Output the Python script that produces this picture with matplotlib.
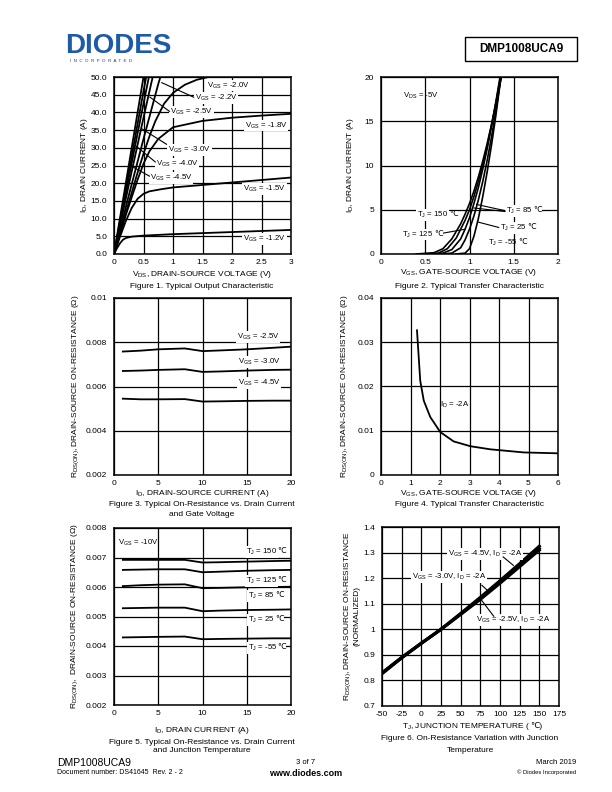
import matplotlib
matplotlib.use('Agg')
import matplotlib.pyplot as plt

plt.rcParams['font.family'] = ['Liberation Sans', 'DejaVu Sans']
plt.rcParams['mathtext.fontset'] = 'custom'
plt.rcParams['mathtext.rm'] = 'Liberation Sans'
plt.rcParams['mathtext.it'] = 'Liberation Sans:italic'
plt.rcParams['mathtext.default'] = 'rm'

W, H = 612, 792

# ---- Figure 1 data: output characteristic ----
vds_12 = [0, 0.05, 0.1, 0.15, 0.2, 0.3, 0.5, 1.0, 1.5, 2.0, 2.5, 3.0]
id_12 = [0, 1.6, 3.0, 4.0, 4.5, 4.9, 5.2, 5.6, 5.9, 6.2, 6.5, 6.8]
vds_15 = [0, 0.1, 0.2, 0.3, 0.4, 0.5, 0.6, 0.8, 1.0, 1.5, 2.0, 2.5, 3.0]
id_15 = [0, 4.8, 9.3, 13.0, 15.6, 17.0, 17.7, 18.3, 18.8, 19.5, 20.2, 20.9, 21.6]
vds_18 = [0, 0.1, 0.2, 0.3, 0.4, 0.5, 0.6, 0.75, 1.0, 1.5, 2.0, 2.5, 3.0]
id_18 = [0, 5.5, 11.0, 16.0, 21.0, 25.5, 29.0, 32.5, 35.8, 37.6, 38.5, 39.1, 39.6]
vds_20 = [0, 0.1, 0.2, 0.3, 0.4, 0.5, 0.6, 0.7, 0.85, 1.0, 1.2, 1.4, 1.6, 1.8, 2.0]
id_20 = [0, 5.8, 11.6, 17.3, 23.0, 28.3, 33.2, 37.5, 42.5, 45.5, 47.8, 49.2, 50.0, 50.5, 51.0]
vds_steep = [0, 0.25, 0.5, 0.75, 1.0]
id_22 = [0, 16.5, 32.5, 48.0, 62.0]
id_25 = [0, 19.5, 38.5, 57.0, 75.0]
id_30 = [0, 21.5, 42.5, 63.0, 83.0]
id_40 = [0, 23.0, 46.0, 68.0, 90.0]
id_45 = [0, 25.0, 50.0, 74.0, 98.0]

# ---- Figure 2 data: transfer characteristic ----
vgs_m55 = [0.85, 0.95, 1.00, 1.05, 1.10, 1.15, 1.20, 1.25, 1.30, 1.35, 1.37]
id_m55 = [0, 0.1, 0.6, 2.0, 4.0, 6.5, 9.3, 12.4, 15.8, 19.6, 21.0]
vgs_25 = [0.70, 0.80, 0.90, 0.95, 1.00, 1.05, 1.10, 1.15, 1.20, 1.25, 1.30, 1.35, 1.37]
id_25c = [0, 0.1, 0.7, 1.6, 2.8, 4.3, 6.1, 8.2, 10.6, 13.3, 16.3, 19.6, 21.0]
vgs_85 = [0.60, 0.70, 0.80, 0.90, 0.95, 1.00, 1.05, 1.10, 1.15, 1.20, 1.25, 1.30, 1.35, 1.37]
id_85 = [0, 0.1, 0.5, 1.7, 2.8, 4.1, 5.7, 7.5, 9.6, 11.9, 14.5, 17.3, 20.3, 21.5]
vgs_125 = [0.50, 0.65, 0.75, 0.85, 0.95, 1.00, 1.05, 1.10, 1.15, 1.20, 1.25, 1.30, 1.35, 1.38]
id_125 = [0, 0.1, 0.6, 1.8, 3.8, 5.0, 6.5, 8.2, 10.1, 12.2, 14.6, 17.2, 20.0, 21.6]
vgs_150 = [0.40, 0.60, 0.70, 0.80, 0.90, 0.95, 1.00, 1.05, 1.10, 1.15, 1.20, 1.25, 1.30, 1.35, 1.39]
id_150 = [0, 0.15, 0.6, 1.7, 3.4, 4.5, 5.7, 7.1, 8.7, 10.5, 12.5, 14.7, 17.0, 19.5, 21.5]

# ---- Figure 3 data: RDS(ON) vs ID and VGS ----
id_f3 = [1, 3, 5, 8, 10, 12, 15, 18, 20]
r_25v = [0.00758, 0.00762, 0.00768, 0.00772, 0.00760, 0.00763, 0.00768, 0.00775, 0.00780]
r_30v = [0.00670, 0.00672, 0.00675, 0.00678, 0.00666, 0.00668, 0.00672, 0.00675, 0.00676]
r_45v = [0.00545, 0.00542, 0.00542, 0.00543, 0.00532, 0.00533, 0.00535, 0.00536, 0.00536]

# ---- Figure 4 data: RDS(ON) vs VGS ----
vgs_f4 = [1.22, 1.28, 1.33, 1.45, 1.67, 2.01, 2.46, 3.03, 3.71, 4.84, 6.0]
r_f4 = [0.0327, 0.0265, 0.0213, 0.0168, 0.0131, 0.0097, 0.0076, 0.0065, 0.0058, 0.0051, 0.0049]

# ---- Figure 5 data: RDS(ON) vs ID and temperature ----
id_f5 = [1, 3, 5, 8, 10, 12, 15, 18, 20]
r_150 = [0.00692, 0.00692, 0.00692, 0.00692, 0.00683, 0.00684, 0.00686, 0.00688, 0.00689]
r_125 = [0.00658, 0.00659, 0.00660, 0.00660, 0.00650, 0.00652, 0.00655, 0.00657, 0.00658]
r_85 = [0.00603, 0.00606, 0.00608, 0.00609, 0.00596, 0.00597, 0.00599, 0.00600, 0.00601]
r_25 = [0.00528, 0.00529, 0.00530, 0.00530, 0.00518, 0.00520, 0.00522, 0.00523, 0.00524]
r_m55 = [0.00429, 0.00430, 0.00431, 0.00432, 0.00423, 0.00424, 0.00425, 0.00426, 0.00426]

# ---- Figure 6 data: normalized RDS(ON) vs TJ ----
tj = [-50, -25, 0, 25, 50, 75, 100, 125, 150]
rn_45 = [0.826, 0.888, 0.945, 1.0, 1.062, 1.125, 1.19, 1.257, 1.325]
rn_30 = [0.828, 0.889, 0.945, 1.0, 1.060, 1.120, 1.184, 1.250, 1.316]
rn_25 = [0.830, 0.890, 0.946, 1.0, 1.058, 1.117, 1.180, 1.245, 1.310]

fig = plt.figure(figsize=(W / 100, H / 100), dpi=100)


def fx(px):
    return px / W


def fy(py):
    return 1 - py / H


def make_axes(left, top, w, h, xlim, ylim, xt, xtl, yt, ytl):
    ax = fig.add_axes([fx(left), fy(top + h), w / W, h / H])
    ax.set_xlim(xlim)
    ax.set_ylim(ylim)
    ax.set_xticks(xt)
    ax.set_xticklabels(xtl)
    ax.set_yticks(yt)
    ax.set_yticklabels(ytl)
    ax.tick_params(length=0, labelsize=6)
    ax.tick_params(axis='x', pad=3.5)
    ax.tick_params(axis='y', pad=5)
    ax.grid(True, color='black', lw=0.9)
    ax.set_axisbelow(True)
    for s in ax.spines.values():
        s.set_linewidth(1.1)
    return ax


box = dict(facecolor='white', edgecolor='none', pad=0.6)
lfs = 5.6


def lab(ax, x, y, s, ha='left', bg=True):
    return ax.text(x, y, s, fontsize=lfs, ha=ha, va='center', bbox=box if bg else None, zorder=4)


def tlab(ax, x, y, s, bg=True):
    # "T_J = nn" in mathtext, then the degree-Celsius sign as plain text
    t = lab(ax, x, y, s, bg=bg)
    small = dict(facecolor='white', edgecolor='none', pad=0.1)
    ax.annotate('℃', xy=(1, 0.55), xycoords=t, xytext=(0.3, 0), textcoords='offset points',
                ha='left', va='center', fontsize=lfs,
                bbox=small if bg else None, zorder=6, annotation_clip=False)


def lead(ax, x0, y0, x1, y1):
    ax.plot([x0, x1], [y0, y1], color='black', lw=0.8, zorder=5)


def ftext(px, py, s, size=6, **kw):
    return fig.text(fx(px), fy(py), s, fontsize=size, ha=kw.pop('ha', 'center'),
                    va=kw.pop('va', 'center'), **kw)


# ---------- Figure 1 ----------
ax1 = make_axes(114, 77, 177, 177, (0, 3), (0, 50),
                [0, 0.5, 1, 1.5, 2, 2.5, 3], ['0', '0.5', '1', '1.5', '2', '2.5', '3'],
                list(range(0, 51, 5)), ['%.1f' % v for v in range(0, 51, 5)])
for xs, ys in [(vds_12, id_12), (vds_15, id_15), (vds_18, id_18), (vds_20, id_20),
               (vds_steep, id_22), (vds_steep, id_25), (vds_steep, id_30),
               (vds_steep, id_40), (vds_steep, id_45)]:
    ax1.plot(xs, ys, color='black', lw=1.3, clip_on=True)
lab(ax1, 1.57, 47.6, r'V$_{GS}$ = -2.0V')
lab(ax1, 1.37, 44.1, r'V$_{GS}$ = -2.2V')
lead(ax1, 1.35, 44.3, 0.81, 48.4)
lab(ax1, 0.95, 40.0, r'V$_{GS}$ = -2.5V')
lead(ax1, 0.94, 40.3, 0.61, 44.3)
lab(ax1, 2.22, 36.3, r'V$_{GS}$ = -1.8V')
lab(ax1, 0.92, 29.5, r'V$_{GS}$ = -3.0V')
lead(ax1, 0.89, 31.0, 0.47, 35.4)
lab(ax1, 0.71, 25.5, r'V$_{GS}$ = -4.0V')
lead(ax1, 0.70, 26.0, 0.38, 30.4)
lab(ax1, 0.61, 21.5, r'V$_{GS}$ = -4.5V')
lead(ax1, 0.60, 22.0, 0.33, 24.5)
lab(ax1, 2.19, 18.4, r'V$_{GS}$ = -1.5V')
lab(ax1, 2.19, 4.3, r'V$_{GS}$ = -1.2V')
ftext(202, 275, r'V$_{DS}$, DRAIN-SOURCE VOLTAGE (V)')
ftext(85, 165, r'I$_D$, DRAIN CURRENT (A)', rotation=90)
ftext(202, 287, 'Figure 1. Typical Output Characteristic')

# ---------- Figure 2 ----------
ax2 = make_axes(381, 77, 177, 177, (0, 2), (0, 20),
                [0, 0.5, 1, 1.5, 2], ['0', '0.5', '1', '1.5', '2'],
                [0, 5, 10, 15, 20], ['0', '5', '10', '15', '20'])
for xs, ys in [(vgs_m55, id_m55), (vgs_25, id_25c), (vgs_85, id_85),
               (vgs_125, id_125), (vgs_150, id_150)]:
    ax2.plot(xs, ys, color='black', lw=1.2)
lab(ax2, 0.25, 17.9, r'V$_{DS}$ = -5V', bg=False)
tlab(ax2, 0.41, 4.4, 'T$_J$ = 150')
tlab(ax2, 0.24, 2.2, 'T$_J$ = 125')
lead(ax2, 0.67, 2.3, 0.95, 2.8)
tlab(ax2, 1.41, 4.9, 'T$_J$ = 85')
lead(ax2, 1.40, 4.9, 1.08, 5.6)
lead(ax2, 1.40, 4.8, 1.05, 5.2)
tlab(ax2, 1.34, 2.9, 'T$_J$ = 25')
lead(ax2, 1.33, 3.0, 1.10, 3.6)
tlab(ax2, 1.21, 1.2, 'T$_J$ = -55', bg=False)
ftext(469, 272, r'V$_{GS}$, GATE-SOURCE VOLTAGE (V)')
ftext(350, 165, r'I$_D$, DRAIN CURRENT (A)', rotation=90)
ftext(469, 287, 'Figure 2. Typical Transfer Characteristic')

# ---------- Figure 3 ----------
ax3 = make_axes(114, 298, 177, 177, (0, 20), (0.002, 0.01),
                [0, 5, 10, 15, 20], ['0', '5', '10', '15', '20'],
                [0.002, 0.004, 0.006, 0.008, 0.01], ['0.002', '0.004', '0.006', '0.008', '0.01'])
for ys in [r_25v, r_30v, r_45v]:
    ax3.plot(id_f3, ys, color='black', lw=1.3)
lab(ax3, 13.9, 0.00822, r'V$_{GS}$ = -2.5V')
lab(ax3, 14.0, 0.00712, r'V$_{GS}$ = -3.0V')
lab(ax3, 14.0, 0.00617, r'V$_{GS}$ = -4.5V')
ftext(202, 493, r'I$_D$, DRAIN-SOURCE CURRENT (A)')
ftext(76, 386, r'R$_{DS(ON)}$, DRAIN-SOURCE ON-RESISTANCE (Ω)', rotation=90)
ftext(202, 505, 'Figure 3. Typical On-Resistance vs. Drain Current')
ftext(202, 514, 'and Gate Voltage')

# ---------- Figure 4 ----------
ax4 = make_axes(381, 298, 177, 177, (0, 6), (0, 0.04),
                [0, 1, 2, 3, 4, 5, 6], ['0', '1', '2', '3', '4', '5', '6'],
                [0, 0.01, 0.02, 0.03, 0.04], ['0', '0.01', '0.02', '0.03', '0.04'])
ax4.plot(vgs_f4, r_f4, color='black', lw=1.3)
lab(ax4, 2.0, 0.0158, r'I$_D$ = -2A', bg=False)
ftext(469, 493, r'V$_{GS}$, GATE-SOURCE VOLTAGE (V)')
ftext(345, 386, r'R$_{DS(ON)}$, DRAIN-SOURCE ON-RESISTANCE (Ω)', rotation=90)
ftext(469, 505, 'Figure 4. Typical Transfer Characteristic')

# ---------- Figure 5 ----------
ax5 = make_axes(114, 528, 177, 177, (0, 20), (0.002, 0.008),
                [0, 5, 10, 15, 20], ['0', '5', '10', '15', '20'],
                [0.002, 0.003, 0.004, 0.005, 0.006, 0.007, 0.008],
                ['0.002', '0.003', '0.004', '0.005', '0.006', '0.007', '0.008'])
for ys in [r_150, r_125, r_85, r_25, r_m55]:
    ax5.plot(id_f5, ys, color='black', lw=1.3)
lab(ax5, 0.4, 0.0075, r'V$_{GS}$ = -10V', bg=False)
tlab(ax5, 14.9, 0.0072, 'T$_J$ = 150')
tlab(ax5, 14.9, 0.00621, 'T$_J$ = 125')
tlab(ax5, 15.1, 0.0057, 'T$_J$ = 85')
tlab(ax5, 15.1, 0.00488, 'T$_J$ = 25')
tlab(ax5, 15.1, 0.00392, 'T$_J$ = -55')
ftext(202, 730, r'I$_D$, DRAIN CURRENT (A)')
ftext(75, 616, r'R$_{DS(ON)}$,  DRAIN-SOURCE ON-RESISTANCE (Ω)', rotation=90)
ftext(202, 742, 'Figure 5. Typical On-Resistance vs. Drain Current')
ftext(202, 751, 'and Junction Temperature')

# ---------- Figure 6 ----------
ax6 = make_axes(382, 527, 177, 179, (-50, 175), (0.7, 1.4),
                list(range(-50, 176, 25)), [str(v) for v in range(-50, 176, 25)],
                [0.7, 0.8, 0.9, 1.0, 1.1, 1.2, 1.3, 1.4],
                ['0.7', '0.8', '0.9', '1', '1.1', '1.2', '1.3', '1.4'])
for ys in [rn_45, rn_30, rn_25]:
    ax6.plot(tj, ys, color='black', lw=2.2)
lab(ax6, 34, 1.296, r'V$_{GS}$ = -4.5V, I$_D$ = -2A')
lead(ax6, 104, 1.283, 117, 1.25)
lab(ax6, -12, 1.204, r'V$_{GS}$ = -3.0V, I$_D$ = -2A')
lead(ax6, 77, 1.172, 84, 1.152)
lab(ax6, 69, 1.035, r'V$_{GS}$ = -2.5V, I$_D$ = -2A')
lead(ax6, 92, 1.051, 75, 1.12)
xl6 = ftext(466, 727, r'T$_J$, JUNCTION TEMPERATURE (')
ax6.annotate('℃)', xy=(1, 0.55), xycoords=xl6, ha='left', va='center', fontsize=6,
             annotation_clip=False)
ftext(348, 616, r'R$_{DS(ON)}$, DRAIN-SOURCE ON-RESISTANCE', rotation=90)
ftext(357, 616, '(NORMALIZED)', rotation=90)
ftext(470, 739, 'Figure 6. On-Resistance Variation with Junction')
ftext(470, 750, 'Temperature')

# ---------- page header / footer ----------
ftext(118, 46, 'DIODES', size=20, color='#1d5aa8', weight='bold')
ftext(101, 61, 'I  N  C  O  R  P  O  R  A  T  E  D', size=3.2, color='#1d3a6a')
fig.patches.append(plt.Rectangle((fx(465), fy(61)), 112 / W, 24 / H, transform=fig.transFigure,
                                 fill=False, edgecolor='black', lw=1.0))
ftext(521, 49, 'DMP1008UCA9', size=8.5, weight='bold')
ftext(57, 763, 'DMP1008UCA9', size=7.5, ha='left')
ftext(57, 773, 'Document number: DS41645  Rev. 2 - 2', size=5, ha='left')
ftext(306, 763, '3 of 7', size=5.5)
ftext(306, 773, 'www.diodes.com', size=6.5, weight='bold')
ftext(576, 763, 'March 2019', size=5.5, ha='right')
ftext(576, 772, '© Diodes Incorporated', size=4.2, ha='right')

fig.savefig('out.png', dpi=100)
